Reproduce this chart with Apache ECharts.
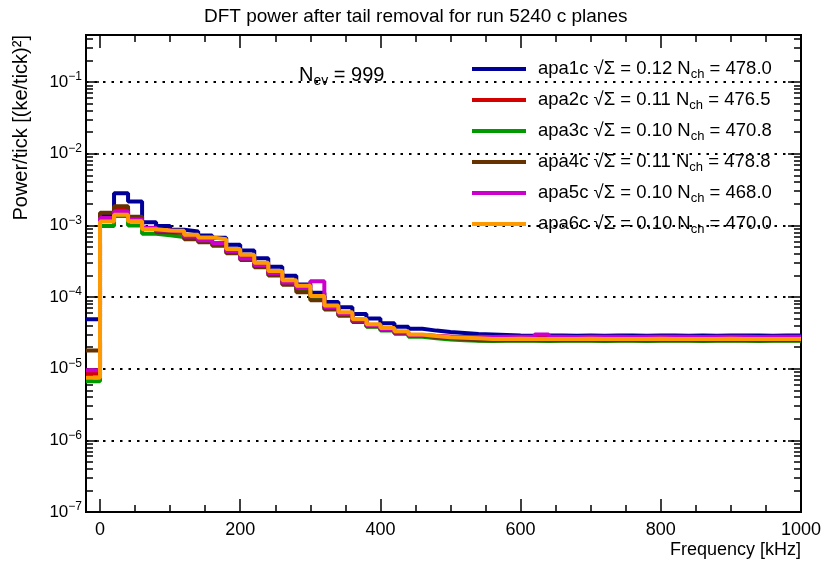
<!DOCTYPE html>
<html><head><meta charset="utf-8">
<script src="https://cdn.jsdelivr.net/npm/echarts@6/dist/echarts.min.js"></script>
<style>html,body{margin:0;padding:0;background:#fff}#c{width:825px;height:564px}</style>
</head><body><div id="c"></div>
<script>
// bin low edges (kHz); last entry is the upper edge of the last bin
const binLow = [-20,0,20,40,60,80,100,120,140,160,180,200,220,240,260,280,300,320,340,360,380,400,420,440,460,480,500,520,540,560,580,600,620,640,660,680,700,720,740,760,780,800,820,840,860,880,900,920,940,960,980,1000];
const names = ['apa1c','apa2c','apa3c','apa4c','apa5c','apa6c'];
const sigma = ['0.12','0.11','0.10','0.11','0.10','0.10'];
const nch = ['478.0','476.5','470.8','478.8','468.0','470.0'];
const colors = ['#000099','#d40000','#009a00','#663300','#cc00cc','#ff9900'];
const xTickLabels = [0,200,400,600,800,1000];
const xMinorTicks = [50,100,150,250,300,350,450,500,550,650,700,750,850,900,950];

const apa1c = [4.9e-5,1.35e-3,2.8e-3,2.15e-3,1.11e-3,0.98e-3,0.87e-3,0.82e-3,0.72e-3,0.67e-3,0.535e-3,0.446e-3,0.347e-3,0.265e-3,0.198e-3,0.15e-3,0.115e-3,0.85e-4,0.72e-4,0.58e-4,0.5e-4,0.43e-4,0.386e-4,0.36e-4,0.34e-4,0.325e-4,0.315e-4,0.305e-4,0.30e-4,0.295e-4,
  2.9e-5,2.88e-5,2.9e-5,2.91e-5,2.89e-5,2.9e-5,2.88e-5,2.9e-5,2.9e-5,2.89e-5,2.91e-5,2.9e-5,2.88e-5,2.9e-5,2.89e-5,2.9e-5,2.91e-5,2.9e-5,2.89e-5,2.9e-5,2.9e-5];
const apa2c = [8.5e-6,1.22e-3,1.69e-3,1.2e-3,0.9e-3,0.84e-3,0.8e-3,0.7e-3,0.62e-3,0.56e-3,0.44e-3,0.35e-3,0.28e-3,0.215e-3,0.16e-3,0.13e-3,0.1e-3,0.72e-4,0.58e-4,0.47e-4,0.4e-4,0.355e-4,0.32e-4,0.295e-4,0.285e-4,0.28e-4,0.275e-4,
  2.75e-5,2.74e-5,2.75e-5,2.76e-5,2.75e-5,2.74e-5,2.75e-5,2.75e-5,2.76e-5,2.74e-5,2.75e-5,2.75e-5,2.74e-5,2.76e-5,2.75e-5,2.75e-5,2.74e-5,2.75e-5,2.76e-5,2.75e-5,2.74e-5,2.75e-5,2.75e-5,2.75e-5];
const apa3c = [6.7e-6,0.98e-3,1.35e-3,1.0e-3,0.765e-3,0.73e-3,0.69e-3,0.66e-3,0.6e-3,0.55e-3,0.43e-3,0.34e-3,0.27e-3,0.21e-3,0.155e-3,0.125e-3,0.095e-3,0.7e-4,0.56e-4,0.46e-4,0.385e-4,0.34e-4,0.31e-4,0.28e-4,0.265e-4,0.255e-4,0.25e-4,
  2.45e-5,2.44e-5,2.45e-5,2.46e-5,2.45e-5,2.44e-5,2.45e-5,2.45e-5,2.46e-5,2.44e-5,2.45e-5,2.45e-5,2.44e-5,2.46e-5,2.45e-5,2.45e-5,2.44e-5,2.45e-5,2.46e-5,2.45e-5,2.44e-5,2.45e-5,2.45e-5,2.45e-5];
const apa4c = [1.8e-5,1.5e-3,1.85e-3,1.32e-3,0.9e-3,0.8e-3,0.78e-3,0.64e-3,0.58e-3,0.52e-3,0.41e-3,0.33e-3,0.26e-3,0.2e-3,0.149e-3,0.117e-3,0.9e-4,0.67e-4,0.55e-4,0.45e-4,0.39e-4,0.35e-4,0.31e-4,0.29e-4,0.275e-4,0.265e-4,0.26e-4,
  2.5e-5,2.49e-5,2.5e-5,2.51e-5,2.5e-5,2.49e-5,2.5e-5,2.5e-5,2.51e-5,2.49e-5,2.5e-5,2.5e-5,2.49e-5,2.51e-5,2.5e-5,2.5e-5,2.49e-5,2.5e-5,2.51e-5,2.5e-5,2.49e-5,2.5e-5,2.5e-5,2.5e-5];
const apa5c = [9.5e-6,1.27e-3,1.56e-3,1.21e-3,0.93e-3,0.85e-3,0.8e-3,0.7e-3,0.62e-3,0.57e-3,0.44e-3,0.345e-3,0.28e-3,0.215e-3,0.16e-3,0.135e-3,1.66e-4,0.72e-4,0.58e-4,0.47e-4,0.4e-4,0.355e-4,0.32e-4,0.295e-4,0.285e-4,0.28e-4,0.275e-4,
  2.78e-5,2.77e-5,2.78e-5,2.79e-5,2.78e-5,3.0e-5,2.78e-5,2.77e-5,2.79e-5,2.78e-5,2.78e-5,2.77e-5,2.78e-5,2.79e-5,2.78e-5,2.78e-5,2.77e-5,2.78e-5,2.79e-5,2.78e-5,2.77e-5,2.78e-5,2.78e-5,2.78e-5];
const apa6c = [7.5e-6,1.13e-3,1.41e-3,1.14e-3,0.88e-3,0.85e-3,0.84e-3,0.74e-3,0.68e-3,0.64e-3,0.47e-3,0.39e-3,0.30e-3,0.23e-3,0.172e-3,0.144e-3,0.103e-3,0.76e-4,0.615e-4,0.495e-4,0.417e-4,0.37e-4,0.332e-4,0.30e-4,0.285e-4,0.275e-4,0.27e-4,0.265e-4,
  2.6e-5,2.6e-5,2.61e-5,2.6e-5,2.59e-5,2.6e-5,2.6e-5,2.61e-5,2.6e-5,2.59e-5,2.6e-5,2.6e-5,2.61e-5,2.6e-5,2.59e-5,2.6e-5,2.6e-5,2.61e-5,2.6e-5,2.59e-5,2.6e-5,2.6e-5,2.6e-5];
const seriesValues = [apa1c, apa2c, apa3c, apa4c, apa5c, apa6c];

const FONT = 'Liberation Sans, Arial, Helvetica, sans-serif';
const yMin = 1e-7, yMax = Math.pow(10, -0.343);
const yMinorLog = [];
for (let e = -7; e < 0; e++) for (let m = 2; m <= 9; m++) { const v = Math.log10(m) + e; if (v <= -0.343) yMinorLog.push(v); }

function histData(vals) {
  const d = vals.map((v, i) => [binLow[i], v]);
  d.push([binLow[binLow.length - 1], vals[vals.length - 1]]);
  return d;
}

const chart = echarts.init(document.getElementById('c'), null, {renderer: 'canvas'});
const tickStyle = {color: '#000', width: 1.5};
const noLine = {show: false, onZero: false};
const hiddenX = (pos, vals, len) => ({
  type: 'value', min: -20, max: 1000, position: pos,
  axisLine: noLine, splitLine: {show: false}, axisLabel: {show: false},
  axisTick: {show: true, inside: true, length: len, customValues: vals, lineStyle: tickStyle}
});
const minorY = (pos) => ({
  type: 'value', min: -7, max: -0.343, position: pos,
  axisLine: noLine, splitLine: {show: false}, axisLabel: {show: false},
  axisTick: {show: true, inside: true, length: 7, customValues: yMinorLog, lineStyle: tickStyle}
});

chart.setOption({
  animation: false,
  backgroundColor: '#fff',
  textStyle: {fontFamily: FONT},
  title: [
    {text: 'DFT power after tail removal for run 5240 c planes', left: 199, top: 2,
     textStyle: {fontSize: 19, fontWeight: 'normal', color: '#000', fontFamily: FONT}},
    {text: '{n|N}{sub|ev}{n| = 999}', left: 294, top: 57,
     textStyle: {fontSize: 20, fontWeight: 'normal', color: '#000', fontFamily: FONT, lineHeight: 26,
       rich: {n: {fontSize: 20, lineHeight: 26, fontFamily: FONT, color: '#000'},
              sub: {fontSize: 14, lineHeight: 14, verticalAlign: 'bottom', fontFamily: FONT, color: '#000'}}}}
  ],
  grid: {left: 86, right: 24, top: 35, bottom: 52, show: true, borderColor: '#000', borderWidth: 2,
         backgroundColor: 'transparent', containLabel: false, outerBoundsMode: 'none'},
  legend: {
    orient: 'vertical', left: 472, top: 57, padding: 0, itemWidth: 54, itemHeight: 4, itemGap: 7,
    icon: 'rect', selectedMode: false, data: names,
    formatter: name => { const i = names.indexOf(name); return name + ' √Σ = ' + sigma[i] + ' N{sub|ch} = ' + nch[i]; },
    textStyle: {fontSize: 18.5, fontFamily: FONT, color: '#000', lineHeight: 24, padding: [0, 0, 0, 7],
      rich: {sub: {fontSize: 13, lineHeight: 12, verticalAlign: 'bottom', fontFamily: FONT, color: '#000'}}}
  },
  xAxis: [
    {type: 'value', min: -20, max: 1000, position: 'bottom',
     axisLine: noLine, splitLine: {show: false},
     axisTick: {show: true, inside: true, length: 13, customValues: xTickLabels, lineStyle: tickStyle},
     axisLabel: {show: true, customValues: xTickLabels, margin: 9, fontSize: 18, color: '#000', fontFamily: FONT,
       formatter: v => String(v)}},
    hiddenX('bottom', xMinorTicks, 7),
    hiddenX('top', xTickLabels, 13),
    hiddenX('top', xMinorTicks, 7)
  ],
  yAxis: [
    {type: 'log', logBase: 10, min: yMin, max: yMax, interval: 1, position: 'left',
     axisLine: noLine,
     splitLine: {show: true, lineStyle: {color: '#000', width: 2, type: [2.5, 6]}},
     axisTick: {show: true, inside: true, length: 13, lineStyle: tickStyle},
     axisLabel: {show: true, margin: 4, color: '#000', fontFamily: FONT,
       showMaxLabel: false,
       formatter: v => { const l = Math.log10(v); const e = Math.round(l); if (Math.abs(l - e) > 1e-6) return ''; return '{b|10}{sup|' + (e < 0 ? '−' + (-e) : e) + '}'; },
       rich: {b: {fontSize: 17, lineHeight: 22, fontFamily: FONT, color: '#000'},
              sup: {fontSize: 12, lineHeight: 11, verticalAlign: 'top', fontFamily: FONT, color: '#000'}}}},
    minorY('left'),
    {type: 'log', logBase: 10, min: yMin, max: yMax, interval: 1, position: 'right',
     axisLine: noLine, splitLine: {show: false}, axisLabel: {show: false},
     axisTick: {show: true, inside: true, length: 13, lineStyle: tickStyle}},
    minorY('right')
  ],
  graphic: [
    {type: 'text', x: 21, y: 35, rotation: Math.PI / 2,
     style: {text: 'Power/tick [(ke/tick)²]', font: '20px ' + FONT, fill: '#000', align: 'right', verticalAlign: 'middle'}},
    {type: 'text', x: 801, y: 550,
     style: {text: 'Frequency [kHz]', font: '18px ' + FONT, fill: '#000', align: 'right', verticalAlign: 'middle'}}
  ],
  series: names.map((n, i) => ({
    name: n, type: 'line', step: 'end', xAxisIndex: 0, yAxisIndex: 0,
    showSymbol: false, symbol: 'none', z: 2 + i,
    itemStyle: {color: colors[i]},
    lineStyle: {color: colors[i], width: 4},
    data: histData(seriesValues[i])
  }))
});
</script></body></html>
